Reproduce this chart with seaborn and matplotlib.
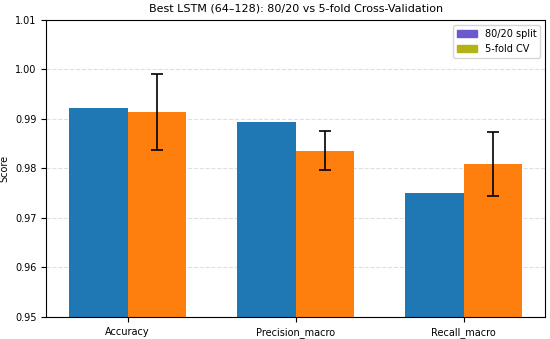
import numpy as np
import pandas as pd
import matplotlib
matplotlib.use('Agg')
import matplotlib.pyplot as plt
import seaborn as sns
from matplotlib.patches import Patch

# scores
metrics = ['Accuracy', 'Precision_macro', 'Recall_macro']
split_scores = [0.9922, 0.9893, 0.9751]
cv_means = [0.9914, 0.9836, 0.9809]
cv_stds = [0.0077, 0.0040, 0.0065]
methods = ['80/20 split', '5-fold CV']

df = pd.DataFrame({
    'metric': metrics * 2,
    'score': split_scores + cv_means,
    'method': [methods[0]] * 3 + [methods[1]] * 3,
})

fig, ax = plt.subplots(figsize=(5.5, 3.39), dpi=100)
sns.barplot(data=df, x='metric', y='score', hue='method',
            palette=['#1f77b4', '#ff7f0e'], saturation=1, width=0.7,
            errorbar=None, linewidth=0, ax=ax, legend=False)

# error bars on the cross-validation bars
cv_bars = ax.containers[1]
xs = [p.get_x() + p.get_width() / 2 for p in cv_bars]
ax.errorbar(xs, cv_means, yerr=cv_stds, fmt='none', ecolor='black',
            elinewidth=1.2, capsize=4, capthick=1.2, zorder=5)

ax.set_ylim(0.95, 1.01)
ax.set_yticks([0.95, 0.96, 0.97, 0.98, 0.99, 1.00, 1.01])
ax.set_xlabel('')
ax.set_ylabel('Score', fontsize=7)
ax.tick_params(labelsize=7)
ax.set_title('Best LSTM (64–128): 80/20 vs 5-fold Cross-Validation', fontsize=8)
ax.grid(axis='y', linestyle='--', alpha=0.4)
ax.set_axisbelow(True)

handles = [Patch(color='#6a5acd', label=methods[0]),
           Patch(color='#b3b316', label=methods[1])]
ax.legend(handles=handles, loc='upper right', fontsize=7)

fig.subplots_adjust(left=0.084, right=0.991, top=0.941, bottom=0.065)
plt.savefig('out.png')
plt.close()
